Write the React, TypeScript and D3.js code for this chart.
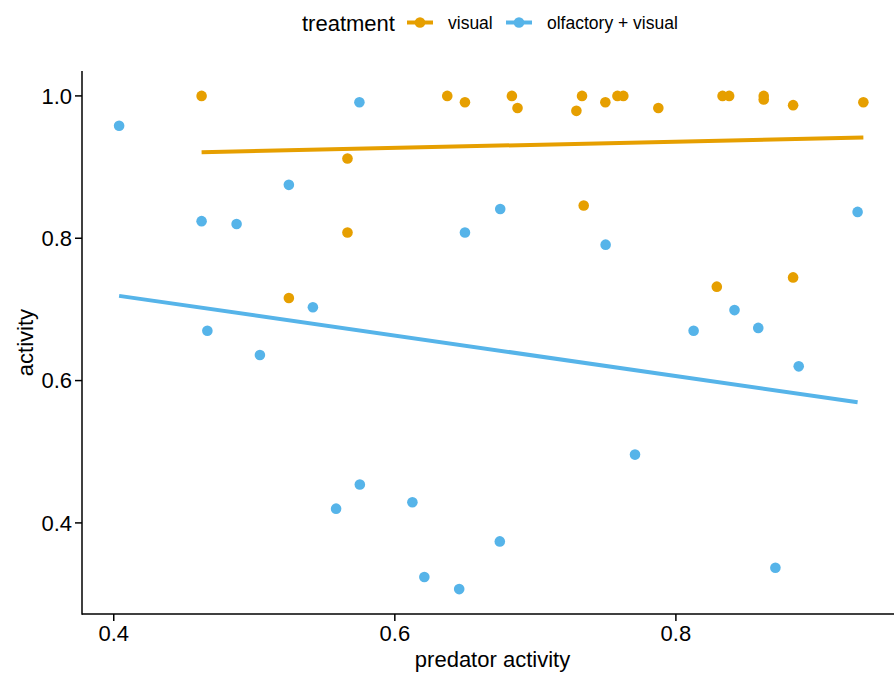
import React from "react";
import * as d3 from "d3";

// predator activity vs activity, two treatments
const visualX = [0.4625, 0.5663, 0.5663, 0.5246, 0.6373, 0.6499, 0.6833, 0.6873, 0.7292, 0.7332, 0.7498, 0.7584, 0.7626, 0.7875, 0.8332, 0.8379, 0.8625, 0.8625, 0.8834, 0.9334, 0.7344, 0.8291, 0.8834];
const visualY = [1.0, 0.912, 0.808, 0.716, 1.0, 0.991, 1.0, 0.983, 0.979, 1.0, 0.991, 1.0, 1.0, 0.983, 1.0, 1.0, 1.0, 0.995, 0.987, 0.991, 0.846, 0.732, 0.745];

const olfX = [0.4038, 0.5748, 0.5246, 0.4625, 0.4874, 0.6499, 0.5417, 0.4666, 0.504, 0.675, 0.75, 0.9293, 0.8417, 0.8126, 0.8586, 0.5751, 0.5582, 0.6125, 0.621, 0.6458, 0.8874, 0.7709, 0.6747, 0.8708];
const olfY = [0.958, 0.991, 0.875, 0.824, 0.82, 0.808, 0.703, 0.67, 0.636, 0.841, 0.791, 0.837, 0.699, 0.67, 0.674, 0.454, 0.42, 0.429, 0.324, 0.307, 0.62, 0.496, 0.374, 0.337];

// fitted lm lines (end points)
const fitVisualX = [0.4625, 0.9334];
const fitVisualY = [0.921, 0.9414];
const fitOlfX = [0.4038, 0.9293];
const fitOlfY = [0.719, 0.5696];

const xTicks = [0.4, 0.6, 0.8];
const yTicks = [0.4, 0.6, 0.8, 1.0];

const W = 894;
const H = 673;
const FONT = "Liberation Sans, Arial, Helvetica, sans-serif";

const ORANGE = "#E69F00";
const BLUE = "#56B4E9";

export default function App() {
  const x = d3.scaleLinear().domain([0.3774, 0.9616]).range([82, 903]);
  const y = d3.scaleLinear().domain([0.272, 1.035]).range([614, 71]);

  const line = d3
    .line<[number, number]>()
    .x((d) => x(d[0]))
    .y((d) => y(d[1]));

  const series = [
    { name: "visual", xs: visualX, ys: visualY, fx: fitVisualX, fy: fitVisualY, color: ORANGE },
    { name: "olfactory + visual", xs: olfX, ys: olfY, fx: fitOlfX, fy: fitOlfY, color: BLUE },
  ];

  const [x0, x1] = x.range();
  const [y0, y1] = y.range();

  return (
    <svg
      width={W}
      height={H}
      style={{ position: "absolute", left: 0, top: 0, background: "#fff" }}
      fontFamily={FONT}
    >
      <rect width={W} height={H} fill="#fff" />

      {/* points */}
      {series.map((s) =>
        s.xs.map((v, i) => (
          <circle key={s.name + i} cx={x(v)} cy={y(s.ys[i])} r={5.3} fill={s.color} />
        ))
      )}

      {/* regression lines */}
      {series.map((s) => (
        <path
          key={"fit" + s.name}
          d={line(s.fx.map((v, i) => [v, s.fy[i]] as [number, number])) || ""}
          fill="none"
          stroke={s.color}
          strokeWidth={4}
        />
      ))}

      {/* axes */}
      <line x1={x0} x2={x1} y1={y0} y2={y0} stroke="#000" strokeWidth={1.5} />
      <line x1={x0} x2={x0} y1={y0 + 0.75} y2={y1} stroke="#000" strokeWidth={1.5} />

      {xTicks.map((t) => (
        <g key={"xt" + t} transform={`translate(${x(t)},${y0})`}>
          <line y1={0} y2={7} stroke="#000" strokeWidth={1.5} />
          <text y={27} textAnchor="middle" fontSize={22} fill="#000">
            {t.toFixed(1)}
          </text>
        </g>
      ))}

      {yTicks.map((t) => (
        <g key={"yt" + t} transform={`translate(${x0},${y(t)})`}>
          <line x1={0} x2={-7} stroke="#000" strokeWidth={1.5} />
          <text x={-10} dy="0.36em" textAnchor="end" fontSize={22} fill="#000">
            {t.toFixed(1)}
          </text>
        </g>
      ))}

      <text x={(x0 + x1) / 2} y={667} textAnchor="middle" fontSize={22} fill="#000">
        predator activity
      </text>
      <text
        transform={`translate(33,${(y0 + y1) / 2}) rotate(-90)`}
        textAnchor="middle"
        fontSize={22}
        fill="#000"
      >
        activity
      </text>

      {/* legend */}
      <g>
        <text x={302} y={30.5} fontSize={22} fill="#000">
          treatment
        </text>
        {series.map((s, i) => {
          const kx = i === 0 ? 407 : 506;
          return (
            <g key={"lg" + s.name}>
              <line x1={kx} x2={kx + 26} y1={22.5} y2={22.5} stroke={s.color} strokeWidth={4} />
              <circle cx={kx + 13} cy={22.5} r={5.3} fill={s.color} />
              <text x={kx + 41} y={29} fontSize={17.5} fill="#000">
                {s.name}
              </text>
            </g>
          );
        })}
      </g>
    </svg>
  );
}
